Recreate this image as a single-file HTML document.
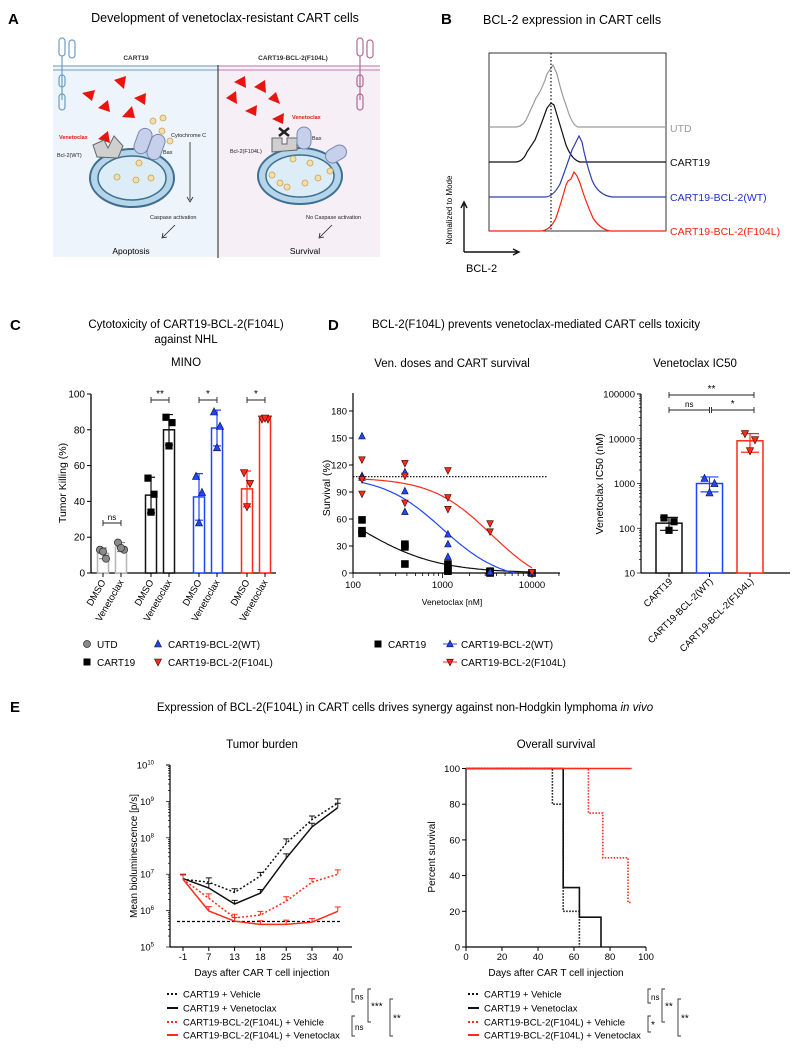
<!DOCTYPE html>
<html><head><meta charset="utf-8"><style>
html,body{margin:0;padding:0;background:#fff}
svg{display:block;font-family:"Liberation Sans",Arial,sans-serif}
</style></head><body>
<svg id="fig" width="803" height="1050" viewBox="0 0 803 1050" xmlns="http://www.w3.org/2000/svg">
<rect width="803" height="1050" fill="#fff"/>
<!-- Panel A -->
<g>
<text x="8" y="24" font-size="15" font-weight="bold">A</text>
<text x="225" y="22" font-size="12.5" text-anchor="middle">Development of venetoclax-resistant CART cells</text>
<rect x="53" y="65" width="165" height="192" fill="#eef4fb"/>
<rect x="218" y="65" width="162" height="192" fill="#f6eff6"/>
<line x1="53" y1="66" x2="218" y2="66" stroke="#9bbad0" stroke-width="1.5"/><line x1="53" y1="70" x2="218" y2="70" stroke="#9bbad0" stroke-width="1.5"/>
<line x1="218" y1="66" x2="380" y2="66" stroke="#cfa3c6" stroke-width="1.5"/><line x1="218" y1="70" x2="380" y2="70" stroke="#cfa3c6" stroke-width="1.5"/>
<line x1="218" y1="65" x2="218" y2="258" stroke="#444" stroke-width="1.2"/>
<g fill="none" stroke="#6f9cc2" stroke-width="1.2">
<rect x="59" y="38" width="6" height="18" rx="3"/><rect x="69" y="40" width="6" height="18" rx="3"/><path d="M62 56 V100"/><rect x="59" y="75" width="6" height="12" rx="3"/><rect x="59" y="94" width="6" height="16" rx="3"/></g>
<g fill="none" stroke="#b06a95" stroke-width="1.2">
<rect x="357" y="38" width="6" height="18" rx="3"/><rect x="367" y="40" width="6" height="18" rx="3"/><path d="M360 56 V100"/><rect x="357" y="75" width="6" height="12" rx="3"/><rect x="357" y="94" width="6" height="16" rx="3"/></g>
<text x="136" y="60" font-size="6.5" font-weight="bold" text-anchor="middle" fill="#333">CART19</text>
<text x="293" y="60" font-size="6.5" font-weight="bold" text-anchor="middle" fill="#333">CART19-BCL-2(F104L)</text>
<g fill="#e8150f">
<path d="M114 80 L126 76 L124 89Z"/><path d="M82 93 L95 90 L92 101Z"/><path d="M98 108 L108 100 L110 112Z"/><path d="M134 98 L146 93 L145 105Z"/><path d="M122 117 L132 106 L135 118Z"/><path d="M98 139 L108 131 L110 143Z"/>
<path d="M234 82 L245 76 L246 88Z"/><path d="M254 87 L265 80 L266 93Z"/><path d="M226 98 L236 91 L237 104Z"/><path d="M268 99 L276 92 L280 104Z"/><path d="M245 111 L257 105 L256 116Z"/><path d="M272 119 L284 113 L283 124Z"/></g>
<g>
<ellipse cx="132" cy="178" rx="42" ry="29" fill="#b6d5e8" stroke="#3d6f92" stroke-width="2"/>
<ellipse cx="132" cy="178" rx="34" ry="22" fill="#dcedf7" stroke="#3d6f92" stroke-width="1.5"/>
<g fill="#f2dfb0" stroke="#c9a24f" stroke-width="0.8"><circle cx="139" cy="163" r="3"/><circle cx="117" cy="177" r="3"/><circle cx="136" cy="180" r="3"/><circle cx="151" cy="178" r="3"/><circle cx="153" cy="121" r="3"/><circle cx="163" cy="118" r="3"/><circle cx="162" cy="131" r="3"/><circle cx="170" cy="141" r="3"/></g>
<path d="M93 145 L104 140 L108 148 L114 136 L123 146 L118 158 L97 157Z" fill="#cfcfcf" stroke="#666"/>
<rect x="136" y="128" width="14" height="26" rx="7" fill="#c7d0ea" stroke="#7a86b0" transform="rotate(20 143 141)"/>
<rect x="149" y="134" width="14" height="26" rx="7" fill="#c7d0ea" stroke="#7a86b0" transform="rotate(20 156 147)"/></g>
<g>
<ellipse cx="300" cy="176" rx="42" ry="28" fill="#b6d5e8" stroke="#3d6f92" stroke-width="2"/>
<ellipse cx="300" cy="176" rx="34" ry="21" fill="#dcedf7" stroke="#3d6f92" stroke-width="1.5"/>
<g fill="#f2dfb0" stroke="#c9a24f" stroke-width="0.8"><circle cx="293" cy="159" r="3"/><circle cx="310" cy="163" r="3"/><circle cx="272" cy="175" r="3"/><circle cx="280" cy="183" r="3"/><circle cx="305" cy="183" r="3"/><circle cx="318" cy="178" r="3"/><circle cx="330" cy="171" r="3"/><circle cx="287" cy="187" r="3"/></g>
<path d="M272 138 L282 138 L282 144 L287 144 L287 138 L297 138 L297 150 L272 152Z" fill="#cfcfcf" stroke="#666"/>
<path d="M279 128 L289 136 M289 128 L279 136" stroke="#222" stroke-width="2.5"/>
<rect x="297" y="127" width="14" height="22" rx="7" fill="#c7d0ea" stroke="#7a86b0"/>
<rect x="329" y="143" width="14" height="22" rx="7" fill="#c7d0ea" stroke="#7a86b0" transform="rotate(60 336 154)"/></g>
<g font-size="5.5" fill="#222">
<text x="59" y="139" fill="#e8150f" font-weight="bold">Venetoclax</text>
<text x="57" y="157">Bcl-2(WT)</text>
<text x="171" y="137">Cytochrome C</text>
<text x="163" y="154">Bax</text>
<text x="150" y="219">Caspase activation</text>
<text x="292" y="119" fill="#e8150f" font-weight="bold">Venetoclax</text>
<text x="312" y="140">Bax</text>
<text x="230" y="153">Bcl-2(F104L)</text>
<text x="306" y="219">No Caspase activation</text></g>
<path d="M190 142 V200 M187 197 L190 202 L193 197" fill="none" stroke="#222" stroke-width="0.8"/>
<path d="M175 225 L163 237 M163 233 L162 238 L167 237" fill="none" stroke="#222" stroke-width="0.8"/>
<path d="M332 225 L320 237 M320 233 L319 238 L324 237" fill="none" stroke="#222" stroke-width="0.8"/>
<text x="131" y="254" font-size="8.5" text-anchor="middle">Apoptosis</text>
<text x="305" y="254" font-size="8.5" text-anchor="middle">Survival</text>
</g>
<!-- Panel B -->
<g>
<text x="441" y="24" font-size="15" font-weight="bold">B</text>
<text x="483" y="24" font-size="12.5">BCL-2 expression in CART cells</text>
<rect x="489" y="53" width="177" height="178" fill="none" stroke="#333" stroke-width="1"/>
<path d="M489 127 H515 Q523 127 527 118 L536 98 Q542 90 547 74 L553 65 L557 74 Q561 92 567 108 Q572 125 578 127 H666" fill="none" stroke="#9a9a9a" stroke-width="1.2"/>
<path d="M489 162 H515 Q523 162 527 152 L535 140 Q541 125 547 108 L551 103 L554 105 Q560 125 566 145 Q572 160 580 162 H666" fill="none" stroke="#111" stroke-width="1.2"/>
<path d="M489 197 H545 Q553 197 560 184 Q566 168 572 150 L579 136 L582 142 Q586 163 592 180 Q598 195 612 197 H666" fill="none" stroke="#3040b0" stroke-width="1.2"/>
<path d="M489 231 H540 Q550 231 556 218 Q562 200 566 185 L568 181 L571 179 L574 172 L577 176 L580 183 Q585 200 593 218 Q600 229 610 231 H666" fill="none" stroke="#ff2010" stroke-width="1.2"/>
<line x1="551" y1="53" x2="551" y2="231" stroke="#111" stroke-width="1.2" stroke-dasharray="1.5,2"/>
<g font-size="10.5"><text x="670" y="132" fill="#9a9a9a">UTD</text><text x="670" y="166" fill="#111">CART19</text><text x="670" y="201" fill="#2030d0">CART19-BCL-2(WT)</text><text x="670" y="235" fill="#ff2010">CART19-BCL-2(F104L)</text></g>
<path d="M464 252 V204 M461 208 L464 202 L467 208 M464 252 H517 M513 249 L519 252 L513 255" fill="none" stroke="#111" stroke-width="1.4"/>
<text transform="translate(452,210) rotate(-90)" font-size="8" text-anchor="middle">Nomalized to Mode</text>
<text x="466" y="272" font-size="11">BCL-2</text>
</g>
<!-- titles C D E -->
<text x="10" y="330" font-size="15" font-weight="bold">C</text>
<text x="186" y="328" font-size="11.5" text-anchor="middle">Cytotoxicity of CART19-BCL-2(F104L)</text>
<text x="186" y="343" font-size="11.5" text-anchor="middle">against NHL</text>
<text x="186" y="366" font-size="11.5" text-anchor="middle">MINO</text>
<text x="328" y="330" font-size="15" font-weight="bold">D</text>
<text x="372" y="328" font-size="11.5">BCL-2(F104L) prevents venetoclax-mediated CART cells toxicity</text>
<text x="452" y="367" font-size="11.5" text-anchor="middle">Ven. doses and CART survival</text>
<text x="695" y="367" font-size="11.5" text-anchor="middle">Venetoclax IC50</text>
<text x="10" y="712" font-size="15" font-weight="bold">E</text>
<text x="405" y="711" font-size="11.5" text-anchor="middle">Expression of BCL-2(F104L) in CART cells drives synergy against non-Hodgkin lymphoma <tspan font-style="italic">in vivo</tspan></text>
<text x="262" y="748" font-size="11.5" text-anchor="middle">Tumor burden</text>
<text x="556" y="748" font-size="11.5" text-anchor="middle">Overall survival</text>
<g id="dyn"></g>
</svg>
<script>
// ---- Panel C data
const cGroups = ['UTD','CART19','CART19-BCL-2(WT)','CART19-BCL-2(F104L)'];
const cConds = ['DMSO','Venetoclax'];
const cMeans = [[11,14.5],[43.5,80],[42.5,81],[47,86]];
const cSD = [[3,2.5],[10,8.5],[13,10],[10,0.5]];
const cPoints = [[[13,8,12],[17,13,14]],[[53,44,34],[87,84,71]],[[54,45,28],[90,82,70]],[[56,50,37],[86,86,86.5]]];
const cSig = ['ns','**','*','*'];
const cTicks = [0,20,40,60,80,100];
// ---- Panel D dose-response data
const dDoses = [126,380,1150,3400,10000];
const dC19 = [[59,47,44],[32,29,10],[10,5,2],[1,0,2],[0]];
const dWT = [[152,108,106],[112,91,68],[43,32,18],[2,1],[0]];
const dF = [[126,104,88],[122,108,78],[114,84,71],[55,46],[1]];
const dFitTop = [100,108,106];
const dFitBottom = [0,-10,-20];
const dFitIC50 = [115,1000,3500];
const dFitHill = [1.0,1.3,1.3];
const dYTicks = [0,30,60,90,120,150,180];
const dXTicks = [100,1000,10000];
const dRef = 107;
// ---- IC50 data
const icGroups = ['CART19','CART19-BCL-2(WT)','CART19-BCL-2(F104L)'];
const icMeans = [130,1000,9000];
const icLo = [90,650,5000];
const icHi = [175,1400,13000];
const icPts = [[170,140,90],[1300,1000,620],[13000,9500,5400]];
const icTicks = [10,100,1000,10000,100000];
// ---- Panel E tumor burden (log10 p/s)
const tDays = ['-1','7','13','18','25','33','40'];
const tC19Veh = [6.86,6.78,6.5,6.95,7.85,8.5,8.95];
const tC19Ven = [6.88,6.62,6.18,6.48,7.44,8.3,8.83];
const tFVeh = [6.86,6.34,5.8,5.88,6.26,6.78,7.0];
const tFVen = [6.86,5.99,5.71,5.62,5.62,5.68,5.98];
const tErr = [0.12,0.12,0.1,0.1,0.12,0.1,0.12];
const tBaseline = 5.7;
// ---- Survival (step points: day, percent)
const sC19Veh = [[0,100],[48,100],[48,80],[54,80],[54,20],[63,20],[63,0]];
const sC19Ven = [[0,100],[54,100],[54,33.3],[63,33.3],[63,16.7],[75,16.7],[75,0]];
const sFVeh = [[0,100],[68,100],[68,75],[76,75],[76,50],[90,50],[90,25],[92,25]];
const sFVen = [[0,100],[92,100]];
const sXTicks = [0,20,40,60,80,100];
const sYTicks = [0,20,40,60,80,100];

const NS='http://www.w3.org/2000/svg';
const root=document.getElementById('dyn');
function mk(tag,attrs,parent){const e=document.createElementNS(NS,tag);for(const k in attrs)e.setAttribute(k,attrs[k]);(parent||root).appendChild(e);return e;}
function txt(s,attrs,parent){const e=mk('text',attrs,parent);e.textContent=s;return e;}
function nm(e,n){


return e;}
const BLK='#111',BLUE='#1f45ff',RED='#ff2a1a',GRY='#9a9a9a';
function marker(type,x,y,parent,s){s=s||3.6;let e;
 if(type==='circle')e=mk('circle',{cx:x,cy:y,r:s,fill:'#8a8a8a',stroke:'#333','stroke-width':0.8},parent);
 else if(type==='square')e=mk('rect',{x:x-s,y:y-s,width:2*s,height:2*s,fill:'#000'},parent);
 else if(type==='up')e=mk('path',{d:`M${x} ${y-s-0.5}L${x+s} ${y+s-0.5}L${x-s} ${y+s-0.5}Z`,fill:BLUE,stroke:'#112',"stroke-width":0.6},parent);
 else e=mk('path',{d:`M${x} ${y+s+0.5}L${x+s} ${y-s+0.5}L${x-s} ${y-s+0.5}Z`,fill:RED,stroke:'#300',"stroke-width":0.6},parent);
 return e;}

// ===== Panel C
(function(){
const g=nm(mk('g',{}),'tumor-killing-chart');
const yC=v=>573-v*1.79, xC=(gi,i)=>103+gi*48+i*18;
const cols=['#b5b5b5',BLK,BLUE,RED], mks=['circle','square','up','down'];
nm(mk('line',{x1:91,y1:394,x2:91,y2:573,stroke:'#000','stroke-width':1.3},g),'y-axis');
nm(mk('line',{x1:91,y1:573,x2:276,y2:573,stroke:'#000','stroke-width':1.3},g),'x-axis');
cTicks.forEach(t=>{mk('line',{x1:87,y1:yC(t),x2:91,y2:yC(t),stroke:'#000'},g);nm(txt(t,{x:85,y:yC(t)+3.5,'font-size':10,'text-anchor':'end'},g),'y-tick-label');});
nm(txt('Tumor Killing (%)',{transform:'translate(66,483) rotate(-90)','font-size':10.5,'text-anchor':'middle'},g),'y-axis-title');
cGroups.forEach((gn,gi)=>{cConds.forEach((cn,i)=>{
 const x=xC(gi,i),v=cMeans[gi][i];
 const b=mk('rect',{x:x-5.5,y:yC(v),width:11,height:573-yC(v),fill:'#fff',stroke:cols[gi],'stroke-width':1.5},g);
 nm(b,'bar-'+gn.toLowerCase()+'-'+cn.toLowerCase());
 const sd=cSD[gi][i];
 mk('path',{d:`M${x} ${yC(v-sd)}V${yC(v+sd)}M${x-4} ${yC(v+sd)}H${x+4}M${x-4} ${yC(v-sd)}H${x+4}`,stroke:cols[gi]==='#b5b5b5'?'#888':cols[gi],'stroke-width':1.2,fill:'none'},g);
 const offs=[-3,3,0];
 cPoints[gi][i].forEach((p,k)=>nm(marker(mks[gi],x+offs[k],yC(p),g),'point'));
 mk('line',{x1:x,y1:573,x2:x,y2:577,stroke:'#000'},g);
 nm(txt(cn,{transform:`translate(${x+3},${582}) rotate(-60)`,'font-size':9.5,'text-anchor':'end'},g),'x-tick-label');
 });
 const x1=xC(gi,0),x2=xC(gi,1),top=gi===0?523:400;
 mk('path',{d:`M${x1} ${top-3}V${top+3}M${x1} ${top}H${x2}M${x2} ${top-3}V${top+3}`,stroke:'#222',fill:'none','stroke-width':0.9},g);
 nm(txt(cSig[gi],{x:(x1+x2)/2,y:top-3,'font-size':gi===0?8:10,'text-anchor':'middle'},g),'significance-label');
});
// legend
const L=nm(mk('g',{}),'legend-c');
[['circle',87,644,'UTD'],['square',87,662,'CART19'],['up',158,644,'CART19-BCL-2(WT)'],['down',158,662,'CART19-BCL-2(F104L)']].forEach(r=>{
 nm(marker(r[0],r[1],r[2],L,3.5),'legend-marker');nm(txt(r[3],{x:r[1]+10,y:r[2]+4,'font-size':10},L),'legend-entry');});
})();

// ===== Panel D dose response
(function(){
const g=nm(mk('g',{}),'dose-response-chart');
const xD=v=>353+(Math.log10(v)-2)*89.5, yD=v=>573-v*0.9;
nm(mk('line',{x1:353,y1:393,x2:353,y2:573,stroke:'#000','stroke-width':1.2},g),'y-axis');
nm(mk('line',{x1:353,y1:573,x2:560,y2:573,stroke:'#000','stroke-width':1.2},g),'x-axis');
dYTicks.forEach(t=>{mk('line',{x1:349,y1:yD(t),x2:353,y2:yD(t),stroke:'#000'},g);nm(txt(t,{x:347,y:yD(t)+3.5,'font-size':9.5,'text-anchor':'end'},g),'y-tick-label');});
for(let d=100;d<=20000;d*=10){for(let m=1;m<10;m++){const v=d*m;if(v>20000)break;const x=xD(v);mk('line',{x1:x,y1:573,x2:x,y2:m===1?578:576,stroke:'#000','stroke-width':0.8},g);}}
dXTicks.forEach(t=>nm(txt(t,{x:xD(t),y:588,'font-size':9.5,'text-anchor':'middle'},g),'x-tick-label'));
nm(txt('Survival (%)',{transform:'translate(330,488) rotate(-90)','font-size':10.5,'text-anchor':'middle'},g),'y-axis-title');
nm(txt('Venetoclax [nM]',{x:452,y:605,'font-size':8.5,'text-anchor':'middle'},g),'x-axis-title');
nm(mk('line',{x1:353,y1:yD(dRef),x2:548,y2:yD(dRef),stroke:'#000','stroke-width':1.2,'stroke-dasharray':'1.5,1.5'},g),'reference-line');
const cols=[BLK,BLUE,RED], mks=['square','up','down'], sets=[dC19,dWT,dF], names=['cart19','wt','f104l'];
sets.forEach((s,si)=>{
 let d='';let started=false;
 for(let lv=Math.log10(dDoses[0]);lv<=4.01;lv+=0.02){const v=Math.pow(10,lv);
  let y=dFitBottom[si]+(dFitTop[si]-dFitBottom[si])/(1+Math.pow(v/dFitIC50[si],dFitHill[si]));
  if(y<0){d+=(started?'L':'M')+xD(v).toFixed(1)+' '+yD(0).toFixed(1);break;}
  d+=(started?'L':'M')+xD(v).toFixed(1)+' '+yD(y).toFixed(1);started=true;}
 nm(mk('path',{d:d,fill:'none',stroke:cols[si],'stroke-width':1.2},g),'fit-curve-'+names[si]);
 s.forEach((pts,di)=>pts.forEach(p=>nm(marker(mks[si],xD(dDoses[di]),yD(p),g,si===0?3.8:3.3),'point-'+names[si])));
});
const L=nm(mk('g',{}),'legend-d');
nm(marker('square',378,644,L,3.5),'legend-marker');nm(txt('CART19',{x:388,y:648,'font-size':10},L),'legend-entry');
mk('line',{x1:443,y1:644,x2:457,y2:644,stroke:BLUE},L);nm(marker('up',450,644,L,3.3),'legend-marker');nm(txt('CART19-BCL-2(WT)',{x:461,y:648,'font-size':10},L),'legend-entry');
mk('line',{x1:443,y1:662,x2:457,y2:662,stroke:RED},L);nm(marker('down',450,662,L,3.3),'legend-marker');nm(txt('CART19-BCL-2(F104L)',{x:461,y:666,'font-size':10},L),'legend-entry');
})();

// ===== IC50
(function(){
const g=nm(mk('g',{}),'ic50-chart');
const yI=v=>573-(Math.log10(v)-1)*44.75, xI=i=>669+i*40.5;
nm(mk('line',{x1:641,y1:394,x2:641,y2:573,stroke:'#000','stroke-width':1.2},g),'y-axis');
nm(mk('line',{x1:641,y1:573,x2:790,y2:573,stroke:'#000','stroke-width':1.2},g),'x-axis');
for(let d=10;d<100000;d*=10)for(let m=1;m<10;m++){const y=yI(d*m);mk('line',{x1:m===1?637:639,y1:y,x2:641,y2:y,stroke:'#000','stroke-width':0.7},g);}
mk('line',{x1:637,y1:yI(100000),x2:641,y2:yI(100000),stroke:'#000'},g);
icTicks.forEach(t=>nm(txt(t,{x:635,y:yI(t)+3.5,'font-size':9.5,'text-anchor':'end'},g),'y-tick-label'));
nm(txt('Venetoclax IC50 (nM)',{transform:'translate(603,484) rotate(-90)','font-size':10.5,'text-anchor':'middle'},g),'y-axis-title');
const cols=[BLK,BLUE,RED], mks=['square','up','down'];
icGroups.forEach((n,i)=>{const x=xI(i);
 nm(mk('rect',{x:x-13,y:yI(icMeans[i]),width:26,height:573-yI(icMeans[i]),fill:'#fff',stroke:cols[i],'stroke-width':1.5},g),'bar-'+n.toLowerCase());
 mk('path',{d:`M${x} ${yI(icLo[i])}V${yI(icHi[i])}M${x-9} ${yI(icHi[i])}H${x+9}M${x-9} ${yI(icLo[i])}H${x+9}`,stroke:cols[i],'stroke-width':1.2,fill:'none'},g);
 const offs=[-5,5,0];
 icPts[i].forEach((p,k)=>nm(marker(mks[i],x+offs[k],yI(p),g,3.6),'point'));
 mk('line',{x1:x,y1:573,x2:x,y2:577,stroke:'#000'},g);
 nm(txt(n,{transform:`translate(${x+4},${582}) rotate(-45)`,'font-size':9.5,'text-anchor':'end'},g),'x-tick-label');
});
const br=(x1,x2,y,l)=>{mk('path',{d:`M${x1} ${y-3}V${y+3}M${x1} ${y}H${x2}M${x2} ${y-3}V${y+3}`,stroke:'#222',fill:'none','stroke-width':0.9},g);nm(txt(l,{x:(x1+x2)/2,y:y-3,'font-size':l==='ns'?8:10,'text-anchor':'middle'},g),'significance-label');};
br(xI(0),xI(2)+4,395,'**');br(xI(0),xI(1),410,'ns');br(xI(1)+2,xI(2)+4,410,'*');
})();

// ===== Tumor burden
(function(){
const g=nm(mk('g',{}),'tumor-burden-chart');
const xT=i=>183+i*25.8, yT=l=>947-(l-5)*36.4;
nm(mk('line',{x1:170,y1:765,x2:170,y2:947,stroke:'#000','stroke-width':1.2},g),'y-axis');
nm(mk('line',{x1:170,y1:947,x2:352,y2:947,stroke:'#000','stroke-width':1.2},g),'x-axis');
for(let e=5;e<10;e++)for(let m=1;m<10;m++){const y=yT(e+Math.log10(m));mk('line',{x1:m===1?166:168,y1:y,x2:170,y2:y,stroke:'#000','stroke-width':0.7},g);}
for(let e=5;e<=10;e++){const t=nm(txt('10',{x:154,y:yT(e)+3.5,'font-size':9.5,'text-anchor':'end'},g),'y-tick-label');const s=mk('tspan',{dy:-4,'font-size':6},t);s.textContent=e;}
mk('line',{x1:166,y1:765,x2:170,y2:765,stroke:'#000'},g);
tDays.forEach((d,i)=>{mk('line',{x1:xT(i),y1:947,x2:xT(i),y2:951,stroke:'#000'},g);nm(txt(d,{x:xT(i),y:960,'font-size':9.5,'text-anchor':'middle'},g),'x-tick-label');});
nm(txt('Mean bioluminescence [p/s]',{transform:'translate(137,856) rotate(-90)','font-size':10,'text-anchor':'middle'},g),'y-axis-title');
nm(txt('Days after CAR T cell injection',{x:262,y:976,'font-size':10,'text-anchor':'middle'},g),'x-axis-title');
nm(mk('line',{x1:177,y1:yT(tBaseline),x2:342,y2:yT(tBaseline),stroke:'#000','stroke-width':1.2,'stroke-dasharray':'3,2'},g),'detection-limit-line');
const series=[[tC19Veh,BLK,'2,2','cart19-vehicle'],[tC19Ven,BLK,'','cart19-venetoclax'],[tFVeh,RED,'2,2','f104l-vehicle'],[tFVen,RED,'','f104l-venetoclax']];
series.forEach(s=>{
 const d=s[0].map((v,i)=>(i?'L':'M')+xT(i)+' '+yT(v).toFixed(1)).join('');
 const p=mk('path',{d:d,fill:'none',stroke:s[1],'stroke-width':1.5},g);if(s[2])p.setAttribute('stroke-dasharray',s[2]);
 nm(p,'line-'+s[3]);
 s[0].forEach((v,i)=>{const x=xT(i),y=yT(v),yt=yT(v+tErr[i]);nm(mk('path',{d:`M${x} ${y}V${yt}M${x-3} ${yt}H${x+3}`,stroke:s[1],fill:'none','stroke-width':1},g),'error-bar');});
});
})();

// ===== Survival
(function(){
const g=nm(mk('g',{}),'survival-chart');
const xS=d=>466+d*1.8, yS=p=>947-p*1.785;
nm(mk('line',{x1:466,y1:768,x2:466,y2:947,stroke:'#000','stroke-width':1.2},g),'y-axis');
nm(mk('line',{x1:466,y1:947,x2:646,y2:947,stroke:'#000','stroke-width':1.2},g),'x-axis');
sYTicks.forEach(t=>{mk('line',{x1:462,y1:yS(t),x2:466,y2:yS(t),stroke:'#000'},g);nm(txt(t,{x:460,y:yS(t)+3.5,'font-size':9.5,'text-anchor':'end'},g),'y-tick-label');});
sXTicks.forEach(t=>{mk('line',{x1:xS(t),y1:947,x2:xS(t),y2:951,stroke:'#000'},g);nm(txt(t,{x:xS(t),y:960,'font-size':9.5,'text-anchor':'middle'},g),'x-tick-label');});
nm(txt('Percent survival',{transform:'translate(435,857) rotate(-90)','font-size':10,'text-anchor':'middle'},g),'y-axis-title');
nm(txt('Days after CAR T cell injection',{x:556,y:976,'font-size':10,'text-anchor':'middle'},g),'x-axis-title');
const series=[[sFVeh,RED,'1.5,1.5','f104l-vehicle'],[sC19Veh,BLK,'1.5,1.5','cart19-vehicle'],[sC19Ven,BLK,'','cart19-venetoclax'],[sFVen,RED,'','f104l-venetoclax']];
series.forEach(s=>{const d=s[0].map((p,i)=>(i?'L':'M')+xS(p[0]).toFixed(1)+' '+yS(p[1]).toFixed(1)).join('');
 const p=mk('path',{d:d,fill:'none',stroke:s[1],'stroke-width':1.6},g);if(s[2])p.setAttribute('stroke-dasharray',s[2]);nm(p,'km-'+s[3]);});
})();

// ===== Legends E
function legendE(x0,tx,br,name){
 const L=nm(mk('g',{}),name);
 const rows=[['CART19 + Vehicle',BLK,'2,2'],['CART19 + Venetoclax',BLK,''],['CART19-BCL-2(F104L) + Vehicle',RED,'2,2'],['CART19-BCL-2(F104L) + Venetoclax',RED,'']];
 const ys=[994,1008,1022,1035];
 rows.forEach((r,i)=>{const l=mk('line',{x1:x0,y1:ys[i],x2:x0+11,y2:ys[i],stroke:r[1],'stroke-width':2},L);if(r[2])l.setAttribute('stroke-dasharray',r[2]);
  nm(txt(r[0],{x:tx,y:ys[i]+3.5,'font-size':9.5},L),'legend-entry');});
 br.forEach(b=>{mk('path',{d:`M${b[0]+3} ${b[1]}H${b[0]}V${b[2]}H${b[0]+3}`,stroke:'#333',fill:'none','stroke-width':0.9},L);
  nm(txt(b[3],{x:b[0]+3,y:(b[1]+b[2])/2+4,'font-size':b[3]==='ns'?8:10},L),'significance-label');});
}
legendE(167,183,[[352,989,1002,'ns'],[368,989,1022,'***'],[390,999,1036,'**'],[352,1016,1036,'ns']],'legend-tumor');
legendE(468,484,[[648,989,1003,'ns'],[662,989,1022,'**'],[678,999,1036,'**'],[648,1016,1032,'*']],'legend-survival');
</script>
</body></html>
